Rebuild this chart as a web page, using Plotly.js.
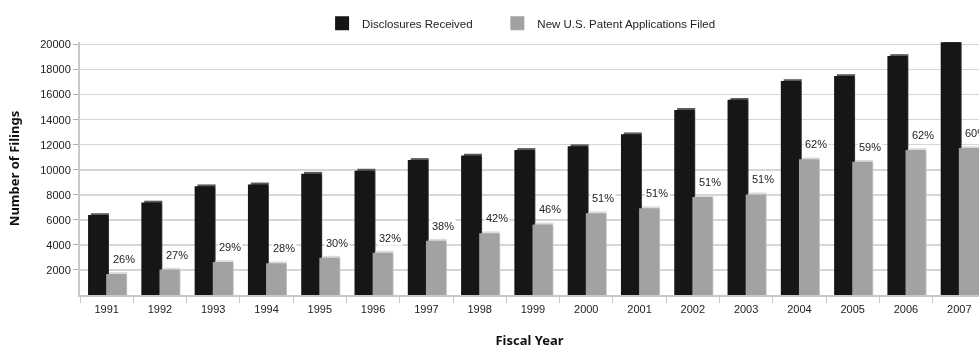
<!DOCTYPE html>
<html>
<head>
<meta charset="utf-8">
<script src="https://cdn.plot.ly/plotly-3.0.1.min.js"></script>
<style>
  html, body { margin: 0; padding: 0; background: #fff; }
  #chart { width: 979px; height: 351px; filter: grayscale(1); }
</style>
</head>
<body>
<div id="chart"></div>
<script>
// Fiscal years and yearly filing counts
const years = ['1991','1992','1993','1994','1995','1996','1997','1998','1999',
               '2000','2001','2002','2003','2004','2005','2006','2007'];
const disclosures = [6300, 7300, 8600, 8750, 9600, 9850, 10700, 11050, 11500,
                     11800, 12750, 14700, 15500, 17000, 17400, 19000, 20100];
const applications = [1600, 1950, 2550, 2450, 2900, 3300, 4250, 4850, 5550,
                      6450, 6850, 7750, 7950, 10750, 10550, 11500, 11650];
// Share of disclosures that became new applications
const shareLabels = ['26%','27%','29%','28%','30%','32%','38%','42%','46%',
                     '51%','51%','51%','51%','62%','59%','62%','60%'];
const yTicks = [2000, 4000, 6000, 8000, 10000, 12000, 14000, 16000, 18000, 20000];

const BLACK = '#161616', BLACK_TOP = '#5a5a5a', BLACK_SIDE = '#3a3a3a';
const GREY = '#a2a2a2', GREY_TOP = '#dcdcdc', GREY_SIDE = '#c4c4c4';
const BAR_W = 0.34, SIDE_W = 0.035, CAP_H = 230, CAP_SHIFT = 0.035;
const FONT = 'Liberation Sans, Arial, sans-serif';
const TITLE_FONT = 'Noto Sans, DejaVu Sans, sans-serif';

function face(name, vals, color, offset, legendId) {
  return { type: 'bar', name: name, x: years, y: vals, base: 0,
           offset: offset, width: BAR_W,
           marker: { color: color, line: { width: 2, color: color } },
           showlegend: true, legend: legendId, hoverinfo: 'x+y+name' };
}
function side(vals, color, offset) {
  return { type: 'bar', x: years, y: vals, base: 0, offset: offset + BAR_W,
           width: SIDE_W, marker: { color: color, line: { width: 0 } },
           showlegend: false, hoverinfo: 'skip' };
}
function cap(vals, color, offset) {
  return { type: 'bar', x: years, y: vals.map(() => CAP_H), base: vals,
           offset: offset + CAP_SHIFT, width: BAR_W, marker: { color: color, line: { width: 0 } },
           showlegend: false, hoverinfo: 'skip' };
}

const traces = [
  side(disclosures, BLACK_SIDE, -0.33),
  cap(disclosures, BLACK_TOP, -0.33),
  face('Disclosures Received', disclosures, BLACK, -0.33, 'legend'),
  side(applications, GREY_SIDE, 0.01),
  cap(applications, GREY_TOP, 0.01),
  face('New U.S. Patent Applications Filed', applications, GREY, 0.01, 'legend2')
];

// Percentage labels sit just above and to the right of each grey bar
const annotations = years.map((yr, i) => ({
  x: i, y: applications[i], xref: 'x', yref: 'y',
  text: shareLabels[i], showarrow: false,
  xanchor: 'center', yanchor: 'bottom', xshift: 17, yshift: 8,
  bgcolor: '#ffffff', borderpad: 1,
  font: { family: FONT, size: 11, color: '#222' }
}));

function legendAt(x) {
  return {
    orientation: 'h', x: x, xanchor: 'left',
    xref: 'container', yref: 'container', y: 0.975, yanchor: 'top',
    font: { family: FONT, size: 11.5, color: '#222' }
  };
}

const layout = {
  width: 979, height: 351,
  margin: { l: 80, r: 0, t: 42, b: 56 },
  paper_bgcolor: '#ffffff', plot_bgcolor: '#ffffff',
  barmode: 'overlay',
  showlegend: true,
  legend: legendAt(0.329),
  legend2: legendAt(0.508),
  xaxis: {
    type: 'category', range: [-0.5, 16.37],
    showgrid: false, showline: true, linecolor: '#c8c8c8', linewidth: 2,
    ticks: 'outside', tickson: 'boundaries', ticklen: 6, tickcolor: '#c8c8c8',
    ticklabelstandoff: 3,
    tickfont: { family: FONT, size: 11, color: '#222' },
    title: { text: 'Fiscal Year', standoff: 22,
             font: { family: TITLE_FONT, size: 13, color: '#111', weight: 'bold' } },
    fixedrange: true
  },
  yaxis: {
    range: [0, 20200],
    tickmode: 'array', tickvals: yTicks, ticktext: yTicks.map(String),
    showgrid: true, gridcolor: '#d6d6d6', gridwidth: 1.5,
    zeroline: false, showline: true, linecolor: '#c8c8c8', linewidth: 2,
    ticks: 'outside', ticklen: 5, tickcolor: '#b0b0b0',
    tickfont: { family: FONT, size: 11, color: '#222' },
    title: { text: 'Number of Filings', standoff: 18,
             font: { family: TITLE_FONT, size: 13, color: '#111', weight: 'bold' } },
    fixedrange: true
  },
  annotations: annotations
};

Plotly.newPlot('chart', traces, layout, { displayModeBar: false, staticPlot: true });
</script>
</body>
</html>
